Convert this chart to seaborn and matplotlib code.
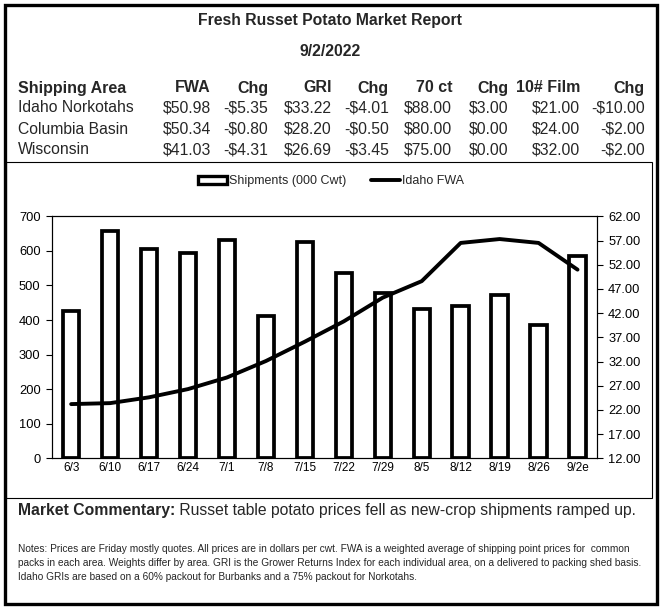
import numpy as np
import pandas as pd
import matplotlib
matplotlib.use("Agg")
import matplotlib.pyplot as plt
import seaborn as sns
from matplotlib.patches import Patch, Rectangle
from matplotlib.lines import Line2D

sns.set_theme(style="white")
plt.rcParams['font.family'] = ['Liberation Sans', 'DejaVu Sans']

# ---------------- data ----------------
title = "Fresh Russet Potato Market Report"
report_date = "9/2/2022"
table_header = ["Shipping Area", "FWA", "Chg", "GRI", "Chg", "70 ct", "Chg", "10# Film", "Chg"]
areas = ["Idaho Norkotahs", "Columbia Basin", "Wisconsin"]
fwa = ["$50.98", "$50.34", "$41.03"]
fwa_chg = ["-$5.35", "-$0.80", "-$4.31"]
gri = ["$33.22", "$28.20", "$26.69"]
gri_chg = ["-$4.01", "-$0.50", "-$3.45"]
ct70 = ["$88.00", "$80.00", "$75.00"]
ct70_chg = ["$3.00", "$0.00", "$0.00"]
film = ["$21.00", "$24.00", "$32.00"]
film_chg = ["-$10.00", "-$2.00", "-$2.00"]

weeks = ["6/3", "6/10", "6/17", "6/24", "7/1", "7/8", "7/15", "7/22",
         "7/29", "8/5", "8/12", "8/19", "8/26", "9/2e"]
shipments = [427, 658, 605, 594, 631, 411, 625, 536, 478, 433, 441, 473, 387, 586]
idaho_fwa = [23.2, 23.4, 24.6, 26.3, 28.7, 32.1, 36.1, 40.3, 45.2, 48.6, 56.5, 57.3, 56.5, 50.98]

commentary_bold = "Market Commentary:"
commentary = " Russet table potato prices fell as new-crop shipments ramped up."
notes = ["Notes: Prices are Friday mostly quotes. All prices are in dollars per cwt. FWA is a weighted average of shipping point prices for  common",
         "packs in each area. Weights differ by area. GRI is the Grower Returns Index for each individual area, on a delivered to packing shed basis.",
         "Idaho GRIs are based on a 60% packout for Burbanks and a 75% packout for Norkotahs."]

# ---------------- figure ----------------
W, H = 661, 608
fig = plt.figure(figsize=(W / 100, H / 100), dpi=100)
fig.patch.set_facecolor("white")

def fx(px):
    return px / W

def fy(py):
    return 1 - py / H

# outer frame and chart box
fig.add_artist(Rectangle((fx(4.5), fy(603.5)), fx(652), 599 / H, transform=fig.transFigure,
                         fill=False, edgecolor="black", linewidth=2.4))
fig.add_artist(Rectangle((fx(6), fy(498)), fx(646), (498 - 162) / H, transform=fig.transFigure,
                         fill=False, edgecolor="black", linewidth=0.8))

# titles
fig.text(0.5, fy(21), title, ha="center", va="center", fontsize=11.3, fontweight="bold")
fig.text(0.5, fy(51), report_date, ha="center", va="center", fontsize=11.3, fontweight="bold")

# table
col_right = [211, 268, 332, 389, 452, 508, 580, 645]
ys_rows = [108, 129, 150]
fig.text(fx(18), fy(88), table_header[0], ha="left", va="center", fontsize=11.5, fontweight="bold")
for i, h in enumerate(table_header[1:]):
    fig.text(fx(col_right[i]), fy(88), h, ha="right", va="center", fontsize=11.5, fontweight="bold")
cols = [fwa, fwa_chg, gri, gri_chg, ct70, ct70_chg, film, film_chg]
for r, area in enumerate(areas):
    fig.text(fx(18), fy(ys_rows[r]), area, ha="left", va="center", fontsize=11.3)
    for c, col in enumerate(cols):
        fig.text(fx(col_right[c]), fy(ys_rows[r]), col[r], ha="right", va="center", fontsize=11.3)

# ---------------- chart ----------------
df = pd.DataFrame({"week": weeks, "shipments": shipments, "fwa": idaho_fwa})
df["pos"] = np.arange(len(df))

ax = fig.add_axes([fx(51.7), fy(458.3), (597 - 51.7) / W, (458.3 - 216.3) / H])
sns.barplot(data=df, x="week", y="shipments", order=weeks, ax=ax, width=0.42,
            color="white", edgecolor="black", linewidth=2.7, saturation=1)
ax.set_ylim(0, 700)
ax.set_xlim(-0.5, len(weeks) - 0.5)
ax.set_yticks(np.arange(0, 701, 100))
ax.set_xlabel("")
ax.set_ylabel("")
ax.set_xticks(np.arange(len(weeks)))
ax.set_xticklabels(weeks)
ax.set_xticks(np.arange(len(weeks) + 1) - 0.5, minor=True)
ax.tick_params(axis="x", which="major", length=0, labelsize=8.5, pad=3, colors="black")
ax.tick_params(axis="x", which="minor", length=5, direction="inout", width=0.8, color="black")
ax.tick_params(axis="y", which="major", length=4, direction="out", width=0.8, labelsize=9.3, pad=4, colors="black")
for s in ax.spines.values():
    s.set_color("black")
    s.set_linewidth(0.8)
    s.set_visible(True)

ax2 = ax.twinx()
sns.lineplot(data=df, x="pos", y="fwa", ax=ax2, color="black", linewidth=2.8, sort=False)
ax2.set_ylim(12, 62)
ax2.set_yticks(np.arange(12, 62.1, 5))
ax2.set_yticklabels([f"{v:.2f}" for v in np.arange(12, 62.1, 5)])
ax2.set_xlim(-0.5, len(weeks) - 0.5)
ax2.set_ylabel("")
ax2.set_xlabel("")
ax2.tick_params(axis="y", length=4, direction="out", width=0.8, labelsize=9.3, pad=4, colors="black")
for s in ax2.spines.values():
    s.set_color("black")
    s.set_linewidth(0.8)

handles = [Patch(facecolor="white", edgecolor="black", linewidth=2.4, label="Shipments (000 Cwt)"),
           Line2D([0], [0], color="black", linewidth=2.8, label="Idaho FWA")]
fig.legend(handles=handles, loc="center", bbox_to_anchor=(fx(331), fy(181)), ncol=2, frameon=False,
           fontsize=9, handlelength=2.3, handleheight=0.6, handletextpad=0.15, columnspacing=2.0)

# commentary and notes
t1 = fig.text(fx(18), fy(511), commentary_bold, ha="left", va="center", fontsize=11.3, fontweight="bold")
fig.canvas.draw()
bb = t1.get_window_extent()
fig.text(bb.x1 / W, fy(511), commentary, ha="left", va="center", fontsize=11.3)
for i, line in enumerate(notes):
    fig.text(fx(18), fy(549 + 14 * i), line, ha="left", va="center", fontsize=7.3)

fig.savefig("out.png", dpi=100, facecolor="white")
